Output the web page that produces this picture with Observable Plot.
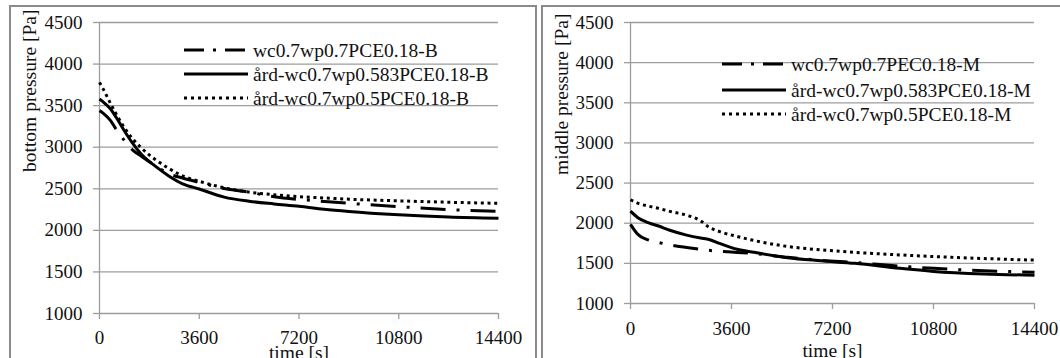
<!DOCTYPE html>
<html><head><meta charset="utf-8">
<script src="https://cdn.jsdelivr.net/npm/d3@7"></script>
<script src="https://cdn.jsdelivr.net/npm/@observablehq/plot@0.6"></script>
<style>
html,body{margin:0;padding:0;background:#fff;width:1060px;height:358px;overflow:hidden;}
#wrap{position:relative;width:1060px;height:358px;font-family:"Liberation Serif","Times New Roman",serif;color:#111;}
#wrap svg, #wrap svg text{font-family:"Liberation Serif","Times New Roman",serif !important;}
.panel{position:absolute;top:0;}
.box{position:absolute;border:2px solid #8a8a8a;pointer-events:none;}
.row{position:absolute;display:flex;align-items:center;white-space:nowrap;font-size:19.5px;height:24px;line-height:24px;}
.row svg{display:block;margin-right:5px;}
</style></head><body>
<div id="wrap"></div>
<script>
// ---- data ----
const xTicks = [0, 3600, 7200, 10800, 14400];
const yTicks = [1000, 1500, 2000, 2500, 3000, 3500, 4000, 4500];

// bottom pressure panel
const timeB  = [0, 150, 400, 600, 900, 1200, 1500, 2000, 2500, 3000, 3600, 4500, 5400, 6300, 7200, 8100, 9000, 10800, 12600, 14400];
const dashB  = [3440, 3405, 3320, 3215, 3080, 2965, 2895, 2780, 2680, 2630, 2578, 2503, 2460, 2405, 2372, 2348, 2325, 2285, 2250, 2228];
const solidB = [3580, 3540, 3460, 3360, 3195, 3045, 2918, 2775, 2655, 2560, 2497, 2400, 2350, 2318, 2290, 2255, 2228, 2188, 2160, 2145];
const dotB   = [3780, 3690, 3525, 3400, 3235, 3100, 2995, 2855, 2745, 2655, 2590, 2512, 2460, 2428, 2405, 2390, 2375, 2355, 2338, 2325];
const namesB = ["wc0.7wp0.7PCE0.18-B", "ård-wc0.7wp0.583PCE0.18-B", "ård-wc0.7wp0.5PCE0.18-B"];

// middle pressure panel
const timeM  = [0, 250, 650, 1000, 1400, 2000, 2500, 2800, 3200, 3800, 4400, 5600, 6800, 8000, 9600, 10800, 12600, 14400];
const dashM  = [1985, 1865, 1790, 1760, 1730, 1698, 1675, 1662, 1650, 1636, 1622, 1575, 1538, 1510, 1465, 1438, 1408, 1390];
const solidM = [2150, 2072, 2005, 1965, 1912, 1852, 1815, 1797, 1745, 1675, 1638, 1570, 1532, 1500, 1438, 1400, 1368, 1352];
const dotM   = [2292, 2250, 2212, 2185, 2148, 2100, 2030, 1950, 1893, 1835, 1785, 1710, 1668, 1637, 1605, 1585, 1560, 1540];
const namesM = ["wc0.7wp0.7PEC0.18-M", "ård-wc0.7wp0.583PCE0.18-M", "ård-wc0.7wp0.5PCE0.18-M"];

// ---- styles ----
const FONT = '"Liberation Serif","Times New Roman",serif';
const GRID = "#9d9d9d";
const styles = [
  {strokeDasharray: "25,11,3,11", strokeWidth: 3, strokeLinecap: "butt"},
  {strokeDasharray: null, strokeWidth: 3, strokeLinecap: "butt"},
  {strokeDasharray: "3,3.7", strokeWidth: 3, strokeLinecap: "butt"}
];

function makePanel({time, series, yLabel, mL, mR, mB, xPad, labelDy, yLabelDx, yLabelDy}) {
  const marks = [
    Plot.gridY({ticks: yTicks, stroke: GRID, strokeOpacity: 1, strokeWidth: 1.3}),
    Plot.ruleX([0], {stroke: GRID, strokeWidth: 1.3}),
    Plot.axisX({ticks: xTicks, tickSize: 6, tickPadding: xPad, stroke: GRID, strokeWidth: 1.3, tickFormat: d => String(d), label: null, fontSize: 19, fontFamily: FONT}),
    Plot.axisY({ticks: yTicks, tickSize: 6, tickPadding: 11, stroke: GRID, strokeWidth: 1.3, tickFormat: d => String(d), label: null, fontSize: 19, fontFamily: FONT})
  ];
  series.forEach((vals, k) => {
    const s = styles[k];
    const opts = {x: "t", y: "p", stroke: "#000", strokeWidth: s.strokeWidth, curve: "monotone-x", strokeLinecap: s.strokeLinecap};
    if (s.strokeDasharray) opts.strokeDasharray = s.strokeDasharray;
    marks.push(Plot.line(time.map((t, i) => ({t, p: vals[i]})), opts));
  });
  marks.push(Plot.text(["time [s]"], {frameAnchor: "bottom", dy: labelDy, lineAnchor: "middle", fontSize: 19.5, fill: "#111", fontFamily: FONT}));
  marks.push(Plot.text([yLabel], {frameAnchor: "left", rotate: -90, dx: yLabelDx, dy: yLabelDy, lineAnchor: "middle", fontSize: 19.5, fill: "#111", fontFamily: FONT}));
  return Plot.plot({
    width: 530, height: 358,
    marginLeft: mL, marginRight: mR, marginTop: 22, marginBottom: mB,
    style: {fontFamily: FONT, fontSize: "19px", color: "#111", background: "transparent", overflow: "visible"},
    x: {domain: [0, 14400]},
    y: {domain: [1000, 4500]},
    marks
  });
}

const wrap = document.getElementById("wrap");

function addBox(l, t, w, h) {
  const b = document.createElement("div");
  b.className = "box";
  Object.assign(b.style, {left: l + "px", top: t + "px", width: w + "px", height: h + "px"});
  wrap.appendChild(b);
}
addBox(9, 5, 524, 400);
addBox(541, 5, 600, 400);

function addPanel(plot, left) {
  const d = document.createElement("div");
  d.className = "panel";
  d.style.left = left + "px";
  d.appendChild(plot);
  wrap.appendChild(d);
}

addPanel(makePanel({time: timeB, series: [dashB, solidB, dotB], yLabel: "bottom pressure [Pa]",
  mL: 99, mR: 32, mB: 45, xPad: 11, labelDy: 39, yLabelDx: -70, yLabelDy: 4}), 0);
addPanel(makePanel({time: timeM, series: [dashM, solidM, dotM], yLabel: "middle pressure [Pa]",
  mL: 100, mR: 26, mB: 55, xPad: 12, labelDy: 47, yLabelDx: -69, yLabelDy: 12}), 530);

function addLegend(names, x, ys) {
  names.forEach((name, k) => {
    const s = styles[k];
    const row = document.createElement("div");
    row.className = "row";
    row.style.left = x + "px";
    row.style.top = (ys[k] - 12) + "px";
    const ns = "http://www.w3.org/2000/svg";
    const svg = document.createElementNS(ns, "svg");
    svg.setAttribute("width", 64); svg.setAttribute("height", 8);
    const ln = document.createElementNS(ns, "line");
    ln.setAttribute("x1", 0); ln.setAttribute("x2", 64);
    ln.setAttribute("y1", 4); ln.setAttribute("y2", 4);
    ln.setAttribute("stroke", "#000");
    ln.setAttribute("stroke-width", s.strokeWidth);
    if (s.strokeDasharray) ln.setAttribute("stroke-dasharray", k === 0 ? "20,9,3,9" : "3,4");
    svg.appendChild(ln);
    const sp = document.createElement("span");
    sp.textContent = name;
    sp.style.position = "relative";
    sp.style.top = "1px";
    row.appendChild(svg);
    row.appendChild(sp);
    wrap.appendChild(row);
  });
}
addLegend(namesB, 184, [50, 74, 97.5]);
addLegend(namesM, 722, [64, 89.5, 114]);
</script>
</body></html>
